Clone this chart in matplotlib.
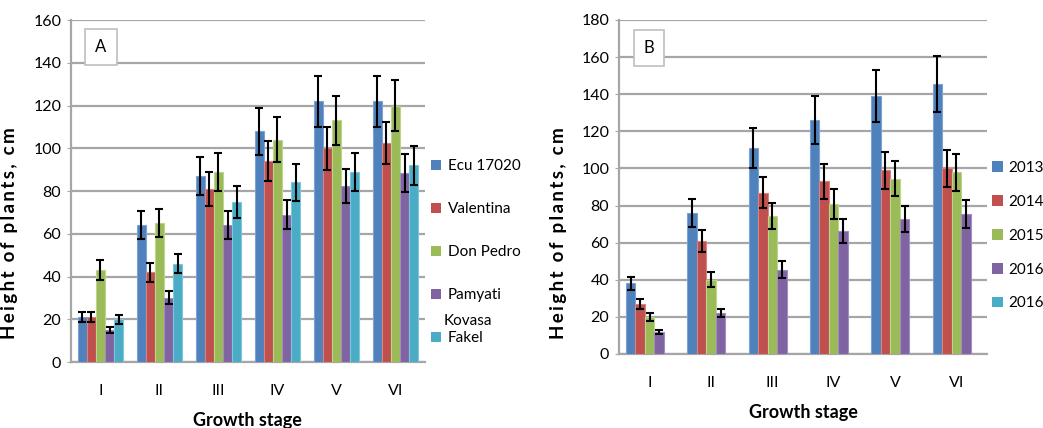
import numpy as np
import matplotlib.pyplot as plt
from matplotlib.patches import Patch

plt.rcParams['font.family'] = ['Lato', 'DejaVu Sans']

stages = ["I", "II", "III", "IV", "V", "VI"]

# panel A - varieties
varieties = ["Ecu 17020", "Valentina", "Don Pedro", "Pamyati", "Fakel"]
ecu = [21, 64, 87, 108, 122, 122]
valentina = [21, 42, 81, 94, 100, 102.5]
don_pedro = [43, 65, 89, 104, 113, 120]
pamyati = [15, 30, 64, 69, 82.5, 88.5]
fakel = [20, 46, 75, 84, 89, 92]
ecu_err = [2.5, 6.5, 9, 11, 12, 12]
valentina_err = [2.5, 4.5, 8, 9.5, 10, 10]
don_pedro_err = [4.5, 6.5, 9, 10.5, 11.5, 12]
pamyati_err = [1.5, 3, 6.5, 7, 8, 9]
fakel_err = [2, 4.5, 7.5, 8.5, 9, 9]

# panel B - years
years = ["2013", "2014", "2015", "2016", "2016"]
y2013 = [38, 76, 111, 126, 139, 145.5]
y2014 = [27, 61, 87, 93, 99, 100]
y2015 = [20, 40, 74.5, 81, 94.5, 98]
y2016 = [12, 22, 45.5, 66.5, 72.5, 75.5]
y2013_err = [3.5, 7.5, 11, 13, 14, 15]
y2014_err = [2.5, 6, 8.5, 9.5, 10, 10]
y2015_err = [2, 4, 7, 8, 9.5, 10]
y2016_err = [1, 2, 4.5, 6.5, 7, 7.5]

colors = ["#4F81BD", "#C0504D", "#9BBB59", "#8064A2", "#4BACC6"]
edges = ["#7fa3d1", "#d98280", "#bcd48e", "#a28cc0", "#80c6da"]

ylab = "  ".join("\u2009".join(w) for w in ["Height", "of", "plants,", "cm"])

fig = plt.figure(figsize=(10.43, 4.28), dpi=100)
axA = fig.add_axes([0.068, 0.1542, 0.3394, 0.799])
axB = fig.add_axes([0.5935, 0.1729, 0.3528, 0.7804])

def draw(ax, series, errs, ymax, letter, box_x, box_y, lab_x, lab_y):
    x = np.arange(len(stages))
    w = 0.155
    for i in range(len(series)):
        off = (i - 2) * w
        ax.bar(x + off, series[i], w, color=colors[i], edgecolor=edges[i], linewidth=0.8,
               yerr=errs[i], capsize=3, error_kw=dict(ecolor="black", elinewidth=1.5, capthick=1.5),
               zorder=3)
    ax.set_xlim(-0.5, 5.5)
    ax.set_ylim(0, ymax)
    ax.set_yticks(np.arange(0, ymax + 1, 20))
    ax.set_xticks(x)
    ax.set_xticklabels(stages)
    ax.grid(axis="y", color="#a6a6a6", linewidth=1.6, zorder=0)
    ax.set_axisbelow(True)
    for s in ["top", "right"]:
        ax.spines[s].set_visible(False)
    for s in ["left", "bottom"]:
        ax.spines[s].set_color("#a6a6a6")
        ax.spines[s].set_linewidth(1.6)
    ax.tick_params(axis="y", length=3, color="#a6a6a6", labelsize=11.5, pad=4)
    ax.tick_params(axis="x", length=0, labelsize=11.5, pad=16)
    ax.set_ylabel(ylab, fontsize=13.5, fontweight="bold")
    ax.yaxis.set_label_coords(lab_x, lab_y)
    ax.set_xlabel("Growth stage", fontsize=13, fontweight="bold", labelpad=10)
    ax.text(box_x, box_y, letter, transform=ax.transAxes, fontsize=12, ha="center", va="center",
            bbox=dict(boxstyle="square,pad=0.6", facecolor="white", edgecolor="#bfbfbf", linewidth=1.2),
            zorder=5)

draw(axA, [ecu, valentina, don_pedro, pamyati, fakel],
     [ecu_err, valentina_err, don_pedro_err, pamyati_err, fakel_err], 160, "A", 0.085, 0.92, -0.15, 0.377)
draw(axB, [y2013, y2014, y2015, y2016],
     [y2013_err, y2014_err, y2015_err, y2016_err], 180, "B", 0.0815, 0.916, -0.141, 0.362)

hA = [Patch(facecolor=colors[i]) for i in range(5)]
fig.legend(hA, varieties, loc="upper left", bbox_to_anchor=(0.413, 0.628), frameon=False,
           borderpad=0, borderaxespad=0,
           fontsize=11, labelspacing=1.9, handlelength=0.7, handleheight=0.7, handletextpad=0.4)
fig.text(0.4255, 0.25, "Kovasa", fontsize=11, va="center")

hB = [Patch(facecolor=colors[i]) for i in range(5)]
fig.legend(hB, years, loc="upper left", bbox_to_anchor=(0.951, 0.624), frameon=False,
           borderpad=0, borderaxespad=0,
           fontsize=11, labelspacing=1.3, handlelength=0.7, handleheight=0.7, handletextpad=0.4)

plt.savefig("out.png", dpi=100)
